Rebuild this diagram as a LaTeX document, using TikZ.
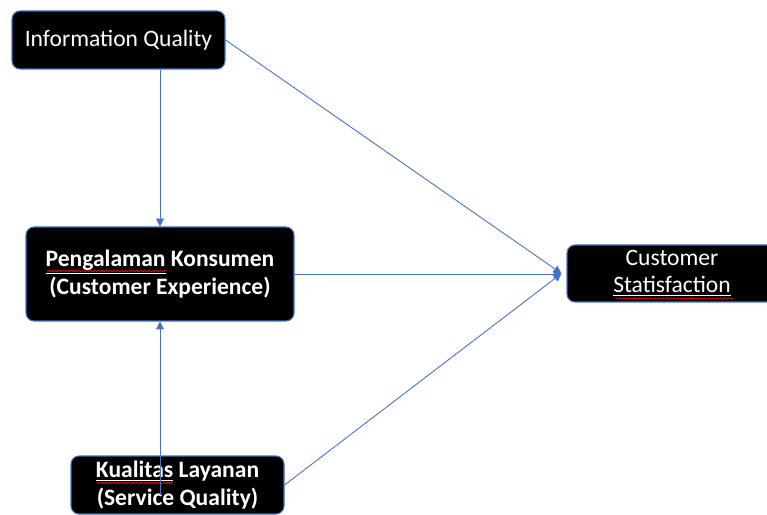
\documentclass[tikz,border=0pt]{standalone}
\usepackage{fontspec}
\setmainfont{Carlito}
\usetikzlibrary{arrows.meta,decorations.pathmorphing}

\definecolor{linkblue}{HTML}{4472C4}

\begin{document}
\begin{tikzpicture}[
    box/.style={fill=black, draw=linkblue, line width=0.6pt, rounded corners=0.16cm,
      text=white, inner sep=0pt, font=\fontsize{13.4}{15.6}\selectfont},
    link/.style={draw=linkblue, line width=0.5pt, -{Triangle[width=4.5pt,length=4.5pt]}},
    squiggle/.style={draw=red, line width=0.4pt,
      decorate, decoration={snake, amplitude=0.45pt, segment length=2.2pt}}
  ]
    \useasboundingbox (0.0, 0.0) rectangle (15.34, 10.28);

    \node[box, minimum width=4.26cm, minimum height=1.16cm] (info) at (2.37, 9.48) {Information Quality};
    \node[box, align=center, minimum width=5.36cm, minimum height=1.88cm, font=\fontsize{13.4}{15.6}\selectfont\bfseries] (peng) at (3.2, 4.8)
      {\underline{Pengalaman} Konsumen\\(Customer Experience)};
    \node[box, minimum width=4.6cm, minimum height=1.14cm] (cust) at (13.64, 4.81)
      {\raisebox{-1.7pt}{\begin{tabular}{@{}c@{}}Customer\\[0.3pt]\underline{Statisfaction}\end{tabular}}\hspace*{0.4cm}};
    \node[box, align=center, minimum width=4.26cm, minimum height=1.16cm, font=\fontsize{13.4}{15.6}\selectfont\bfseries] (kual) at (3.55, 0.58)
      {\underline{Kualitas} Layanan\\(Service Quality)};

    % spell-check marks
    \draw[squiggle] (0.94, 4.86) -- (3.34, 4.86);
    \draw[squiggle] (1.94, 0.62) -- (3.46, 0.62);
    \draw[squiggle] (12.30, 4.31) -- (14.66, 4.31);

    \coordinate (hub) at ([xshift=-0.1cm]cust.west);
    \coordinate (kualstart) at ([yshift=-0.2cm]kual.center -| peng.south);

    \draw[link] (info.south -| peng.north) -- (peng.north);
    \draw[link] (kualstart) -- (peng.south);
    \draw[link] (info.east) -- (hub);
    \draw[link] (peng.east) -- (peng.east -| hub);
    \draw[link] (kual.east) -- (hub);
  \end{tikzpicture}
\end{document}
